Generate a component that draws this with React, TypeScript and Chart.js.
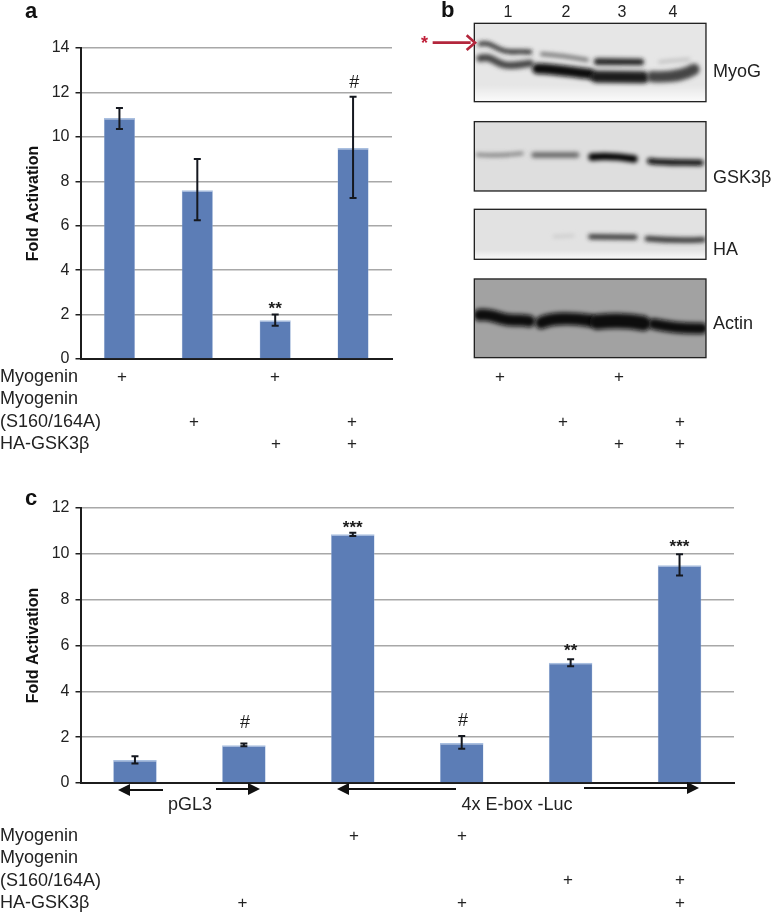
import React, { useEffect, useRef } from "react";
import { Chart, registerables } from "chart.js";

Chart.register(...registerables);

const FONT = '"Liberation Sans", Arial, sans-serif';

const conditionsA = ["Myogenin", "Myogenin (S160/164A)", "HA-GSK3β", "Myogenin (S160/164A) + HA-GSK3β"];
const valuesA = [10.85, 7.6, 1.75, 9.5];
const lowA = [10.35, 6.25, 1.5, 7.25];
const highA = [11.3, 9.0, 2.0, 11.8];
const marksA = ["", "", "**", "#"];
const markLevelA = [0, 0, 2.43, 12.43];
const ticksA = [0, 2, 4, 6, 8, 10, 12, 14];

const conditionsC = ["pGL3", "pGL3 + HA-GSK3β", "Myogenin", "Myogenin + HA-GSK3β", "S160/164A", "S160/164A + HA-GSK3β"];
const valuesC = [1.0, 1.65, 10.85, 1.75, 5.25, 9.5];
const lowC = [0.85, 1.6, 10.78, 1.5, 5.1, 9.05];
const highC = [1.17, 1.72, 10.92, 2.05, 5.4, 9.98];
const marksC = ["", "#", "***", "#", "**", "***"];
const markLevelC = [0, 2.6, 11.27, 2.7, 5.9, 10.45];
const ticksC = [0, 2, 4, 6, 8, 10, 12];

const rowLabelsA = ["Myogenin", "Myogenin", "(S160/164A)", "HA-GSK3β"];
const laneNumbers = ["1", "2", "3", "4"];
const blotNames = ["MyoG", "GSK3β", "HA", "Actin"];

type ChartCfg = {
  labels: string[]; values: number[]; low: number[]; high: number[]; marks: string[]; levels: number[];
  ticks: number[]; max: number; pad: { left: number; right: number; top: number; bottom: number };
};

const errorPlugin = (c: ChartCfg) => ({
  id: "errors",
  afterDatasetsDraw(chart: any) {
    const { ctx, scales } = chart;
    const x = scales.x, y = scales.y;
    ctx.save();
    c.values.forEach((_, i) => {
      const cx = x.getPixelForValue(i);
      const y1 = y.getPixelForValue(c.low[i]);
      const y2 = y.getPixelForValue(c.high[i]);
      ctx.strokeStyle = "#15181f";
      ctx.lineWidth = 2;
      ctx.beginPath();
      ctx.moveTo(cx, y1); ctx.lineTo(cx, y2);
      ctx.moveTo(cx - 3.5, y1); ctx.lineTo(cx + 3.5, y1);
      ctx.moveTo(cx - 3.5, y2); ctx.lineTo(cx + 3.5, y2);
      ctx.stroke();
      const m = c.marks[i];
      if (m) {
        const my = y.getPixelForValue(c.levels[i]);
        ctx.fillStyle = "#1a1a1a";
        ctx.textAlign = "center";
        ctx.textBaseline = "middle";
        if (m === "#") {
          ctx.font = `italic 18px ${FONT}`;
          ctx.fillText(m, cx + 1, my);
        } else {
          ctx.font = `bold 17px ${FONT}`;
          ctx.fillText(m, cx, my + 4);
        }
      }
    });
    ctx.restore();
  },
});

function BarPanel({ cfg, width, height, top }: { cfg: ChartCfg; width: number; height: number; top: number }) {
  const ref = useRef<HTMLCanvasElement>(null);
  useEffect(() => {
    const chart = new Chart(ref.current as HTMLCanvasElement, {
      type: "bar",
      data: {
        labels: cfg.labels,
        datasets: [{
          data: cfg.values,
          backgroundColor: "#5c7db6",
          borderColor: "#a9bfe0",
          borderWidth: { top: 1.5, left: 0.5, right: 0.5, bottom: 0 },
          barPercentage: 0.4,
          categoryPercentage: 1,
        }],
      },
      options: {
        animation: false,
        responsive: false,
        devicePixelRatio: 1,
        layout: { padding: cfg.pad },
        plugins: { legend: { display: false }, tooltip: { enabled: false } },
        scales: {
          x: {
            grid: { display: false, drawTicks: false },
            border: { color: "#1c1c1c", width: 2 },
            ticks: { display: false },
            afterFit: (s: any) => { s.height = 0; },
          },
          y: {
            min: 0, max: cfg.max,
            afterBuildTicks: (s: any) => { s.ticks = cfg.ticks.map((v) => ({ value: v })); },
            grid: { color: "#a8a8a8", lineWidth: 1.5, tickLength: 5, tickColor: "#1c1c1c" },
            border: { color: "#1c1c1c", width: 2 },
            ticks: { color: "#222", padding: 6, font: { family: FONT, size: 16 } },
            title: {
              display: true, text: "Fold Activation", color: "#111",
              font: { family: FONT, size: 16, weight: "bold" }, padding: { top: 24, bottom: 0 },
            },
            afterFit: (s: any) => { s.width = 80.5; },
          },
        },
      } as any,
      plugins: [errorPlugin(cfg)],
    });
    return () => chart.destroy();
  }, [cfg]);
  return <canvas ref={ref} width={width} height={height}
    style={{ position: "absolute", left: 0, top, width, height, display: "block" }} />;
}

const cfgA: ChartCfg = {
  labels: conditionsA, values: valuesA, low: lowA, high: highA, marks: marksA, levels: markLevelA, ticks: ticksA, max: 14,
  pad: { left: 0, right: 38, top: 48, bottom: 41 },
};
const cfgC: ChartCfg = {
  labels: conditionsC, values: valuesC, low: lowC, high: highC, marks: marksC, levels: markLevelC, ticks: ticksC, max: 12,
  pad: { left: 0, right: 38, top: 28, bottom: 27 },
};

const T = ({ x, y, children, size = 18, weight = 400, anchor = "left", color = "#222" }: any) => (
  <div style={{
    position: "absolute", left: x, top: y, fontFamily: FONT, fontSize: size, fontWeight: weight, color,
    lineHeight: "20px", marginTop: -10, whiteSpace: "nowrap",
    transform: anchor === "center" ? "translateX(-50%)" : undefined,
  }}>{children}</div>
);

const plus = (x: number, y: number, k: string) => <T key={k} x={x} y={y} size={17} anchor="center">+</T>;

type Band = [string, number, string];
const bandsBg: [number, number, number, number, string][] = [
  [133, 70, 695, 235, "#e6e6e6"],
  [133, 365, 695, 208, "#dedede"],
  [133, 628, 695, 150, "#e2e2e2"],
  [133, 837, 695, 236, "#a2a2a2"],
];
const bands: Band[] = [
  ["M150 132 C175 125 190 140 215 150 S270 152 300 156", 13, "#2a2a2a"],
  ["M150 175 C185 165 195 190 225 195 S275 192 300 190", 22, "#444"],
  ["M335 162 C380 165 430 172 472 180", 10, "#666"],
  ["M322 206 C390 208 430 218 480 222", 32, "#0c0c0c"],
  ["M502 185 L632 186", 20, "#222"],
  ["M498 230 L640 232", 36, "#1e1e1e"],
  ["M688 186 C720 182 750 180 778 178", 7, "#b4b4b4"],
  ["M668 230 C710 232 760 228 792 208", 34, "#444"],
  ["M142 464 C190 468 230 466 276 460", 10, "#777"],
  ["M312 465 L440 465", 16, "#666"],
  ["M486 471 C520 468 570 470 612 477", 22, "#050505"],
  ["M660 483 C710 490 760 486 812 488", 18, "#0a0a0a"],
  ["M372 710 L430 707", 8, "#c8c8c8"],
  ["M482 710 L615 712", 15, "#333"],
  ["M652 716 C700 720 760 722 820 719", 16, "#333"],
  ["M148 945 C185 940 205 958 240 960 S285 960 298 964", 36, "#0c0c0c"],
  ["M334 968 C360 955 420 953 480 962", 38, "#0c0c0c"],
  ["M502 966 C540 962 600 962 640 970", 46, "#0e0e0e"],
  ["M672 972 C720 982 770 986 816 985", 34, "#0c0c0c"],
];

const colsAB = { a: [122, 194, 276, 352], b: [500, 563, 619, 680] };
const rowY = { myo: 377, mut: 422, ha: 444 };
const colsC = [242.5, 354, 462, 568, 680];

const blotLabelY = [71, 177, 249, 323];
const laneX = [508, 566, 622, 673];

export default function App() {
  return (
    <div style={{ position: "absolute", left: 0, top: 0, width: 772, height: 913, background: "#fff", overflow: "hidden" }}>
      <BarPanel cfg={cfgA} width={430} height={400} top={0} />
      <BarPanel cfg={cfgC} width={772} height={330} top={480} />

      <svg width={772} height={913} style={{ position: "absolute", left: 0, top: 0 }}>
        <defs>
          <filter id="bl" filterUnits="userSpaceOnUse" x="0" y="0" width="1026" height="1410">
            <feGaussianBlur stdDeviation="6" />
          </filter>
          <clipPath id="panels">
            {bandsBg.map(([x, y, w, h], i) => <rect key={i} x={x} y={y} width={w} height={h} />)}
          </clipPath>
          <linearGradient id="fade" x1="0" y1="0" x2="0" y2="1">
            <stop offset="0" stopColor="#fff" stopOpacity="0" />
            <stop offset="1" stopColor="#fff" stopOpacity="0.85" />
          </linearGradient>
          <marker id="ah" markerWidth="6" markerHeight="6" refX="3.5" refY="3" orient="auto-start-reverse">
            <path d="M0 0 L6 3 L0 6 Z" fill="#111" />
          </marker>
        </defs>
        <g transform="translate(430 0) scale(0.3333)">
          {bandsBg.map(([x, y, w, h, c], i) => <rect key={i} x={x} y={y} width={w} height={h} fill={c} />)}
          <g clipPath="url(#panels)">
            {bands.map(([d, w, c], i) => (
              <path key={i} d={d} stroke={c} strokeWidth={w} fill="none" strokeLinecap="round" filter="url(#bl)" />
            ))}
          </g>
          <rect x={133} y={255} width={695} height={50} fill="url(#fade)" />
          <rect x={133} y={748} width={695} height={30} fill="url(#fade)" />
          {bandsBg.map(([x, y, w, h], i) => (
            <rect key={i} x={x} y={y} width={w} height={h} fill="none" stroke="#222" strokeWidth={4} />
          ))}
          <path d="M8 128 H122" stroke="#b3263c" strokeWidth={8} />
          <path d="M110 106 L135 128 L110 150" stroke="#b3263c" strokeWidth={8} fill="none" />
        </g>
        <g stroke="#111" strokeWidth={2} fill="none">
          <path d="M163 790 H123" markerEnd="url(#ah)" />
          <path d="M216 789 H255" markerEnd="url(#ah)" />
          <path d="M456 789 H342" markerEnd="url(#ah)" />
          <path d="M584 788 H694" markerEnd="url(#ah)" />
        </g>
      </svg>

      <T x={25} y={11} size={22} weight={700} color="#111">a</T>
      <T x={441} y={10} size={22} weight={700} color="#111">b</T>
      <T x={25} y={498} size={22} weight={700} color="#111">c</T>
      <T x={421} y={43} size={18} weight={700} color="#c0203a">*</T>

      {laneNumbers.map((n, i) => <T key={n} x={laneX[i]} y={12} size={16} anchor="center">{n}</T>)}
      {blotNames.map((n, i) => <T key={n} x={713} y={blotLabelY[i]} size={18}>{n}</T>)}

      {rowLabelsA.map((l, i) => <T key={i} x={0} y={[376, 398, 421, 443][i]} size={18}>{l}</T>)}
      {rowLabelsA.map((l, i) => <T key={"c" + i} x={0} y={[835, 857, 880, 902][i]} size={18}>{l}</T>)}

      {plus(colsAB.a[0], rowY.myo, "a1")}{plus(colsAB.a[2] - 1, rowY.myo, "a2")}
      {plus(colsAB.a[1], rowY.mut, "a3")}{plus(colsAB.a[3], rowY.mut, "a4")}
      {plus(colsAB.a[2], rowY.ha, "a5")}{plus(colsAB.a[3], rowY.ha, "a6")}

      {plus(colsAB.b[0], rowY.myo, "b1")}{plus(colsAB.b[2], rowY.myo, "b2")}
      {plus(colsAB.b[1], rowY.mut, "b3")}{plus(colsAB.b[3], rowY.mut, "b4")}
      {plus(colsAB.b[2], rowY.ha, "b5")}{plus(colsAB.b[3], rowY.ha, "b6")}

      {plus(colsC[1], 836, "c1")}{plus(colsC[2], 836, "c2")}
      {plus(colsC[3], 880, "c3")}{plus(colsC[4], 880, "c4")}
      {plus(colsC[0], 903, "c5")}{plus(colsC[2], 903, "c6")}{plus(colsC[4], 903, "c7")}

      <T x={190} y={804} anchor="center">pGL3</T>
      <T x={517} y={804} anchor="center">4x E-box -Luc</T>
    </div>
  );
}
